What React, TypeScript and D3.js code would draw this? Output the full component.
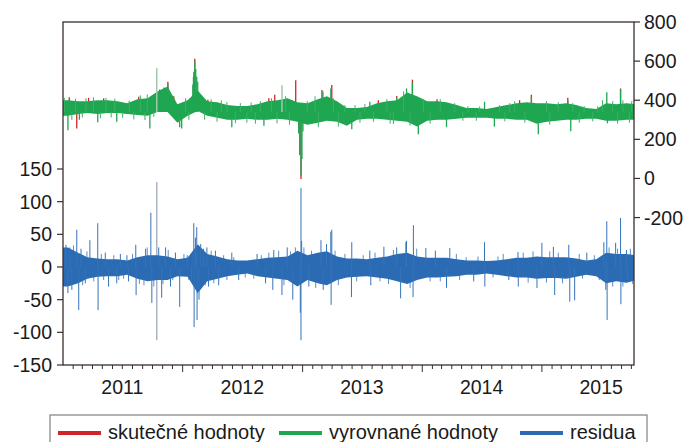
import * as d3 from 'd3'

// monthly envelopes, Jan 2011 .. Oct 2015
const fittedHi = [
  400, 395, 395, 400, 400, 395, 385, 405, 410, 445, 470, 380,
  400, 450, 395, 390, 375, 370, 370, 380, 395, 400, 410, 390,
  385, 405, 420, 395, 360, 360, 365, 385, 395, 400, 440, 420,
  395, 395, 390, 375, 360, 360, 355, 365, 375, 385, 390, 385,
  385, 380, 385, 375, 360, 355, 385, 380, 385, 380,
]
const fittedLo = [
  320, 330, 335, 330, 335, 335, 330, 325, 320, 340, 340, 285,
  320, 345, 320, 310, 300, 300, 305, 300, 300, 305, 300, 290,
  275, 285, 295, 290, 270, 300, 305, 305, 300, 295, 290, 265,
  295, 300, 300, 305, 310, 310, 310, 305, 305, 300, 300, 280,
  290, 295, 300, 300, 305, 305, 295, 295, 300, 300,
]
const residHi = [
  30, 22, 15, 13, 12, 12, 10, 15, 18, 18, 16, 12,
  14, 35, 20, 16, 12, 10, 10, 12, 14, 15, 16, 25,
  18, 22, 24, 16, 13, 13, 12, 14, 16, 20, 22, 16,
  14, 14, 14, 12, 10, 10, 9, 10, 12, 14, 14, 16,
  15, 15, 15, 13, 10, 12, 22, 20, 20, 18,
]
const residLo = [
  -30, -25, -18, -15, -14, -14, -12, -18, -22, -20, -20, -14,
  -15, -40, -22, -18, -14, -12, -10, -14, -16, -18, -20, -30,
  -20, -25, -28, -20, -16, -15, -14, -16, -18, -22, -26, -20,
  -16, -16, -15, -14, -12, -12, -10, -12, -14, -16, -16, -18,
  -17, -17, -18, -15, -12, -14, -25, -22, -24, -20,
]

// single-day peaks [date, value]
const actualPeaks: [string, number][] = [
  ['2011-01-20', 415], ['2011-02-12', 256], ['2011-03-20', 412], ['2011-05-05', 410],
  ['2011-08-20', 418], ['2011-10-23', 455], ['2011-11-17', 495], ['2011-12-05', 420],
  ['2012-02-07', 612], ['2012-03-18', 402], ['2012-09-20', 410], ['2012-10-08', 428],
  ['2012-12-11', 502], ['2012-12-27', -3], ['2013-03-01', 452], ['2013-03-31', 478],
  ['2013-08-20', 400], ['2013-10-15', 422], ['2013-12-02', 505], ['2014-02-15', 405],
  ['2014-10-25', 400], ['2014-11-30', 428], ['2015-03-21', 412], ['2015-08-29', 460],
]
const fittedPeaks: [string, number][] = [
  ['2011-01-16', 246], ['2011-02-20', 300], ['2011-04-17', 287], ['2011-06-14', 290],
  ['2011-09-23', 256], ['2011-10-23', 445], ['2011-11-05', 465], ['2011-11-17', 482],
  ['2011-12-23', 262], ['2011-12-29', 256], ['2012-02-01', 480], ['2012-02-03', 520],
  ['2012-02-04', 545], ['2012-02-07', 600], ['2012-02-10', 560], ['2012-02-13', 520],
  ['2012-02-16', 495], ['2012-05-30', 262], ['2012-09-05', 270], ['2012-12-20', 230],
  ['2012-12-23', 120], ['2012-12-27', 15], ['2012-12-30', 100], ['2013-01-02', 240],
  ['2013-03-04', 445], ['2013-03-28', 460], ['2013-05-31', 251], ['2013-07-25', 392],
  ['2013-10-15', 415], ['2013-11-14', 460], ['2013-12-02', 490], ['2013-12-20', 226],
  ['2014-03-16', 262], ['2014-07-10', 392], ['2014-08-09', 265], ['2014-11-30', 420],
  ['2014-12-21', 226], ['2015-03-21', 400], ['2015-03-30', 241], ['2015-07-18', 441],
  ['2015-07-20', 282], ['2015-08-29', 456],
]
const fittedFringe: [string, number][] = [
  ['2011-01-05', 412], ['2011-01-28', 300], ['2011-02-08', 408], ['2011-03-01', 312],
  ['2011-03-12', 410], ['2011-04-04', 415], ['2011-04-25', 308], ['2011-05-12', 412],
  ['2011-05-28', 312], ['2011-06-08', 408], ['2011-07-02', 310], ['2011-07-22', 398],
  ['2011-08-05', 302], ['2011-08-25', 425], ['2011-09-08', 298], ['2011-09-15', 430],
  ['2011-10-05', 315], ['2012-01-10', 410], ['2012-01-20', 300], ['2012-03-08', 300],
  ['2012-03-28', 405], ['2012-04-15', 290], ['2012-04-28', 400], ['2012-05-15', 390],
  ['2012-06-10', 282], ['2012-06-25', 385], ['2012-07-15', 285], ['2012-07-28', 388],
  ['2012-08-10', 280], ['2012-08-25', 395], ['2012-09-28', 410], ['2012-10-15', 282],
  ['2012-11-10', 420], ['2012-11-22', 275], ['2013-01-15', 395], ['2013-02-08', 420],
  ['2013-02-18', 262], ['2013-04-05', 410], ['2013-04-20', 265], ['2013-05-10', 375],
  ['2013-06-10', 375], ['2013-06-25', 285], ['2013-07-10', 380], ['2013-08-05', 290],
  ['2013-09-15', 405], ['2013-09-25', 280], ['2013-10-05', 278], ['2013-11-05', 445],
  ['2013-11-25', 270], ['2014-01-05', 405], ['2014-01-25', 280], ['2014-02-25', 405],
  ['2014-04-10', 385], ['2014-05-05', 295], ['2014-05-20', 370], ['2014-06-15', 295],
  ['2014-06-25', 368], ['2014-08-25', 375], ['2014-09-10', 292], ['2014-09-25', 385],
  ['2014-10-10', 395], ['2014-11-10', 285], ['2015-01-15', 395], ['2015-01-25', 275],
  ['2015-02-20', 390], ['2015-04-05', 385], ['2015-04-25', 285], ['2015-05-10', 370],
  ['2015-06-05', 292], ['2015-06-20', 368], ['2015-07-05', 400], ['2015-08-05', 395],
  ['2015-08-20', 280], ['2015-09-05', 400], ['2015-09-25', 285], ['2015-10-02', 395],
]
const fadedFitted: [string, number][] = [['2011-10-14', 564], ['2012-10-30', 477]]

const residPeaks: [string, number][] = [
  ['2011-01-10', 34], ['2011-01-16', -40], ['2011-01-22', 30], ['2011-01-28', -35],
  ['2011-02-12', 57], ['2011-02-18', -66], ['2011-02-25', 28], ['2011-03-10', -25],
  ['2011-03-24', 41], ['2011-04-17', 67], ['2011-04-18', -66], ['2011-05-10', 22],
  ['2011-05-20', -30], ['2011-06-14', -25], ['2011-06-25', 20], ['2011-07-15', 18],
  ['2011-07-20', -22], ['2011-08-11', 34], ['2011-08-12', -43], ['2011-09-10', 28],
  ['2011-09-26', 83], ['2011-09-29', -55], ['2011-10-20', 30], ['2011-10-29', -47],
  ['2011-11-10', 30], ['2011-11-25', -30], ['2011-12-10', 22], ['2011-12-23', -61],
  ['2012-01-15', 18], ['2012-01-28', -22], ['2012-02-04', 67], ['2012-02-05', -92],
  ['2012-02-09', 45], ['2012-02-13', 61], ['2012-02-14', -81], ['2012-02-20', -50],
  ['2012-02-25', 35], ['2012-03-05', 28], ['2012-03-15', 30], ['2012-03-20', -30],
  ['2012-04-10', 25], ['2012-04-20', -28], ['2012-05-30', 22], ['2012-06-20', -20],
  ['2012-08-15', 20], ['2012-09-10', -25], ['2012-10-02', -35], ['2012-10-05', 26],
  ['2012-10-30', -43], ['2012-11-15', 30], ['2012-12-02', -50], ['2012-12-25', -70],
  ['2012-12-27', 121], ['2012-12-27', -112], ['2012-12-29', 40], ['2013-01-20', -30],
  ['2013-02-26', 41], ['2013-03-05', -35], ['2013-03-15', 35], ['2013-03-28', 54],
  ['2013-03-29', -58], ['2013-03-31', 57], ['2013-05-30', -46], ['2013-05-31', 38],
  ['2013-07-25', 25], ['2013-07-28', -28], ['2013-09-06', 31], ['2013-10-15', 30],
  ['2013-10-27', -48], ['2013-11-12', 38], ['2013-11-14', 40], ['2013-12-04', -46],
  ['2013-12-05', 64], ['2014-01-12', 29], ['2014-02-10', 25], ['2014-03-16', -32],
  ['2014-03-26', 29], ['2014-06-07', -22], ['2014-07-10', 38], ['2014-07-11', -30],
  ['2014-09-22', -20], ['2014-10-20', 23], ['2014-10-21', -30], ['2014-12-17', -32],
  ['2015-01-01', 37], ['2015-02-05', 31], ['2015-02-09', -43], ['2015-03-24', 34],
  ['2015-03-27', -53], ['2015-04-11', -51], ['2015-05-18', 22], ['2015-07-09', 38],
  ['2015-07-15', -35], ['2015-07-18', 70], ['2015-07-19', -81], ['2015-08-14', 37],
  ['2015-08-29', 75], ['2015-08-30', -57], ['2015-09-16', 26], ['2015-09-19', -20],
]
const residFringe: [string, number][] = [
  ['2011-01-04', -28], ['2011-02-02', 33], ['2011-03-02', -28], ['2011-03-15', 24],
  ['2011-04-05', -22], ['2011-04-28', 20], ['2011-05-05', -20], ['2011-06-05', 18],
  ['2011-06-20', -20], ['2011-07-05', -18], ['2011-08-01', 20], ['2011-08-22', -26],
  ['2011-09-05', -28], ['2011-09-15', 30], ['2011-10-05', -30], ['2011-11-02', -26],
  ['2011-11-18', 26], ['2011-12-02', -20], ['2012-01-05', 20], ['2012-01-20', -20],
  ['2012-03-10', -28], ['2012-03-28', 25], ['2012-04-05', -25], ['2012-05-05', 18],
  ['2012-05-15', -20], ['2012-06-05', 15], ['2012-07-10', -16], ['2012-08-05', -18],
  ['2012-08-28', 18], ['2012-09-20', 22], ['2012-10-20', 25], ['2012-11-05', -28],
  ['2012-11-25', 24], ['2012-12-10', 30], ['2013-01-05', 30], ['2013-01-28', 25],
  ['2013-02-10', -32], ['2013-04-10', 25], ['2013-04-20', -28], ['2013-05-10', 20],
  ['2013-06-15', -22], ['2013-07-05', 18], ['2013-08-10', 22], ['2013-08-25', -22],
  ['2013-09-20', -26], ['2013-10-05', 26], ['2013-11-25', -32], ['2013-12-15', 28],
  ['2014-01-25', -22], ['2014-02-25', -22], ['2014-04-15', 20], ['2014-04-25', -20],
  ['2014-05-15', 15], ['2014-06-20', 16], ['2014-08-05', -16], ['2014-08-20', 16],
  ['2014-09-05', 20], ['2014-11-05', 22], ['2014-11-20', -24], ['2014-12-05', 24],
  ['2015-01-15', -24], ['2015-01-25', 24], ['2015-02-20', 22], ['2015-03-05', -25],
  ['2015-04-25', 20], ['2015-05-05', -18], ['2015-06-10', 18], ['2015-06-25', -20],
  ['2015-07-25', 30], ['2015-08-05', -30], ['2015-08-20', 28], ['2015-09-05', -30],
  ['2015-09-28', 28], ['2015-10-05', -26],
]
const fadedResid: [string, number][] = [['2011-10-14', 130], ['2011-10-14', -112]]

const years = [2011, 2012, 2013, 2014, 2015]
const leftTicks = [-150, -100, -50, 0, 50, 100, 150]
const rightTicks = [-200, 0, 200, 400, 600, 800]
const legend = [
  { label: 'skutečné hodnoty', color: '#d2232a', x: 58 },
  { label: 'vyrovnané hodnoty', color: '#1fa651', x: 279 },
  { label: 'residua', color: '#2a6bb3', x: 520 },
]

const RED = '#d2232a'
const GREEN = '#1fa651'
const BLUE = '#2a6bb3'
const INK = '#3a2e2e'
const FONT = '"Liberation Sans", Arial, sans-serif'

export default function App() {
  const W = 684, H = 442
  const L = 63, R = 634, T = 22, B = 365
  const parse = d3.timeParse('%Y-%m-%d')
  const start = new Date(2011, 0, 1)
  const end = new Date(2015, 9, 9)

  const x = d3.scaleTime().domain([start, end]).range([L, R])
  const yL = d3.scaleLinear().domain([-150, 375]).range([B, T])
  const yR = d3.scaleLinear().domain([-954, 800]).range([B, T])

  const mid = (i: number) => d3.timeDay.offset(d3.timeMonth.offset(start, i), 15)
  type P = { d: Date; h: number; l: number }
  const band = (hi: number[], lo: number[]): P[] => {
    const pts = hi.map((h, i) => ({ d: mid(i), h, l: lo[i] }))
    return [{ d: start, h: hi[0], l: lo[0] }, ...pts, { d: end, h: hi[hi.length - 1], l: lo[lo.length - 1] }]
  }
  const areaR = d3.area<P>().x(p => x(p.d)).y0(p => yR(p.l)).y1(p => yR(p.h))
  const areaL = d3.area<P>().x(p => x(p.d)).y0(p => yL(p.l)).y1(p => yL(p.h))

  const months = d3.timeMonth.range(d3.timeMonth.offset(start, 1), end)

  const spikes = (list: [string, number][], base: number, y: (v: number) => number, color: string, w = 1) =>
    list.map(([d, v], i) => {
      const px = x(parse(d)!)
      return <line key={i} x1={px} x2={px} y1={y(base)} y2={y(v)} stroke={color} strokeWidth={w} />
    })

  return (
    <svg width={W} height={H} style={{ position: 'absolute', left: 0, top: 0, background: '#fff' }} fontFamily={FONT}>
      <defs>
        <clipPath id="plot"><rect x={L} y={T} width={R - L} height={B - T} /></clipPath>
      </defs>
      <g clipPath="url(#plot)">
        {spikes(actualPeaks, 340, yR, RED, 1.3)}
        <path d={areaR(band(fittedHi, fittedLo))!} fill={GREEN} />
        {spikes(fittedFringe, 340, yR, '#3cb066', 1)}
        {spikes(fittedPeaks, 340, yR, GREEN, 1.3)}
        {spikes(fadedFitted, 340, yR, '#9fcaa9', 1.5)}
        {spikes(fadedResid, 0, yL, '#a9b3c2', 1.5)}
        {spikes(residFringe, 0, yL, '#5a8fcb', 1)}
        <path d={areaL(band(residHi, residLo))!} fill={BLUE} />
        {spikes(residPeaks, 0, yL, '#3573ba', 1)}
      </g>

      {/* frame */}
      <rect x={L} y={T} width={R - L} height={B - T} fill="none" stroke={INK} strokeWidth={1.3} />

      {/* left axis */}
      {leftTicks.map(t => (
        <g key={t}>
          <line x1={L - 6} x2={L} y1={yL(t)} y2={yL(t)} stroke={INK} strokeWidth={1.2} />
          <text x={52} y={yL(t)} dy="0.36em" textAnchor="end" fontSize={19.5} fill="#1a1a1a">{t}</text>
        </g>
      ))}

      {/* right axis */}
      {rightTicks.map(t => (
        <g key={t}>
          <line x1={R} x2={R + 6} y1={yR(t)} y2={yR(t)} stroke={INK} strokeWidth={1.2} />
          <text x={644} y={yR(t)} dy="0.36em" fontSize={19.5} fill="#1a1a1a">{t}</text>
        </g>
      ))}

      {/* time axis */}
      {months.map((m, i) => (
        <line key={i} x1={x(m)} x2={x(m)} y1={B} y2={B + (m.getMonth() === 0 ? 7 : 4)} stroke={INK} strokeWidth={1} />
      ))}
      {years.map(yr => (
        <text key={yr} x={x(new Date(yr, 6, 1))} y={394} textAnchor="middle" fontSize={19.5} fill="#1a1a1a">{yr}</text>
      ))}

      {/* legend */}
      <rect x={50} y={415} width={597} height={40} fill="#fff" stroke="#8a8a8a" strokeWidth={1.3} />
      {legend.map(it => (
        <g key={it.label}>
          <line x1={it.x} x2={it.x + 43} y1={433} y2={433} stroke={it.color} strokeWidth={4} />
          <text x={it.x + 50} y={439} fontSize={20} fill="#1a1a1a">{it.label}</text>
        </g>
      ))}
    </svg>
  )
}
